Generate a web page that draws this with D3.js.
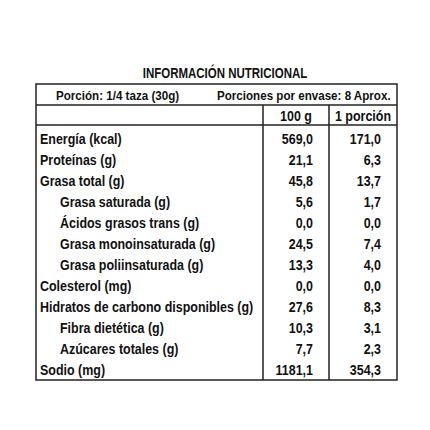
<!DOCTYPE html>
<html><head><meta charset="utf-8">
<script src="https://cdn.jsdelivr.net/npm/d3@7"></script>
<style>body{margin:0;background:#fff}text{font-family:"Liberation Sans Narrow","Arial Narrow","Liberation Sans",sans-serif;font-weight:bold;fill:#111}</style>
</head><body><div id="chart"></div>
<script>
var labels = ["Energía (kcal)", "Proteínas (g)", "Grasa total (g)", "Grasa saturada (g)", "Ácidos grasos trans (g)",
  "Grasa monoinsaturada (g)", "Grasa poliinsaturada (g)", "Colesterol (mg)", "Hidratos de carbono disponibles (g)",
  "Fibra dietética (g)", "Azúcares totales (g)", "Sodio (mg)"];
var indent = [0, 0, 0, 1, 1, 1, 1, 0, 0, 1, 1, 0];
var per100 = ["569,0", "21,1", "45,8", "5,6", "0,0", "24,5", "13,3", "0,0", "27,6", "10,3", "7,7", "1181,1"];
var perPortion = ["171,0", "6,3", "13,7", "1,7", "0,0", "7,4", "4,0", "0,0", "8,3", "3,1", "2,3", "354,3"];
var columns = ["100 g", "1 porción"];

var w = 430, h = 430, left = 36, right = 397, c1 = 263, c2 = 329;
var sx = 0.86;
var svg = d3.select("#chart").append("svg").attr("width", w).attr("height", h);

var y = d3.scaleBand().domain(d3.range(labels.length)).range([128, 380]);

// condensed text: plain font squeezed horizontally
function label(parent, x, yy, str, size, anchor) {
  return parent.append("text")
    .attr("transform", "translate(" + x + "," + yy + ") scale(" + sx + ",1)")
    .attr("text-anchor", anchor || "start")
    .style("font-size", size + "px").text(str);
}

label(svg, 225, 78, "INFORMACIÓN NUTRICIONAL", 14, "middle").attr("transform", "translate(225,78) scale(0.82,1)");

var line = function (x1, y1, x2, y2) {
  svg.append("line").attr("x1", x1).attr("y1", y1).attr("x2", x2).attr("y2", y2)
    .attr("stroke", "#222").attr("stroke-width", 1.5);
};
svg.append("rect").attr("x", left).attr("y", 84).attr("width", right - left).attr("height", 380 - 84)
  .attr("fill", "none").attr("stroke", "#222").attr("stroke-width", 1.5);
line(left, 105, right, 105);
line(left, 125, right, 125);
line(c1, 105, c1, 380);
line(c2, 105, c2, 380);

label(svg, 56, 100, "Porción:  1/4 taza (30g)", 13.5);
label(svg, 217, 100, "Porciones por envase: 8 Aprox.", 13.5);

columns.forEach(function (d, i) {
  label(svg, i ? 363 : 296, 121, d, 14.5, "middle");
});

labels.forEach(function (d, i) {
  var yy = y(i) + y.bandwidth() / 2 + 5;
  label(svg, indent[i] ? 60 : 40, yy, d, 14.5);
  label(svg, 313, yy, per100[i], 14.5, "end");
  label(svg, 381, yy, perPortion[i], 14.5, "end");
});
</script></body></html>
